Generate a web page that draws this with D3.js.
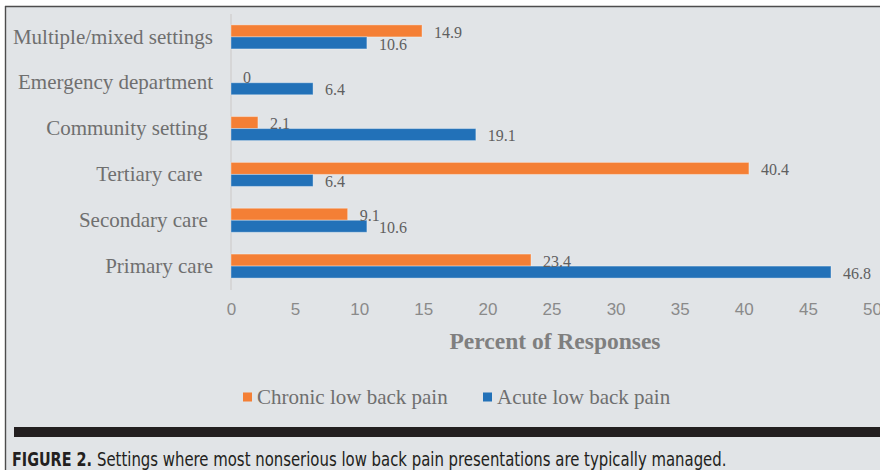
<!DOCTYPE html>
<html>
<head>
<meta charset="utf-8">
<script src="https://cdn.jsdelivr.net/npm/d3@7"></script>
<style>
  html, body { margin: 0; padding: 0; background: #ffffff; }
  svg { display: block; }
  text { white-space: pre; }
</style>
</head>
<body>
<svg id="chart" width="880" height="470"></svg>
<script>
// ---- data ----
const categories = [
  "Multiple/mixed settings",
  "Emergency department",
  "Community setting ",
  "Tertiary care  ",
  "Secondary care ",
  "Primary care"
];
const seriesNames = ["Chronic low back pain", "Acute low back pain"];
const chronicValues = [14.9, 0, 2.1, 40.4, 9.1, 23.4];
const acuteValues   = [10.6, 6.4, 19.1, 6.4, 10.6, 46.8];
const xTicks = [0, 5, 10, 15, 20, 25, 30, 35, 40, 45, 50];
const axisTitle = "Percent of Responses";
const captionBold = "FIGURE 2.";
const captionText = "Settings where most nonserious low back pain presentations are typically managed.";

const colors = { "Chronic low back pain": "#f47f35", "Acute low back pain": "#2271b8" };

const svg = d3.select("#chart");

// frame
svg.append("rect").attr("x", 5).attr("y", 6).attr("width", 875).attr("height", 464).attr("fill", "#e1e4e7");
svg.append("line").attr("x1", 5).attr("x2", 880).attr("y1", 6.5).attr("y2", 6.5).attr("stroke", "#4d4d4d").attr("stroke-width", 1.6);
svg.append("line").attr("x1", 5.5).attr("x2", 5.5).attr("y1", 6).attr("y2", 470).attr("stroke", "#4d4d4d").attr("stroke-width", 1.4);

// scales
const x = d3.scaleLinear().domain([0, 50]).range([231, 872]);
const y = d3.scaleBand().domain(categories).range([14, 289]).paddingInner(0.476).paddingOuter(0.238);
const ySub = d3.scaleBand().domain(seriesNames).range([0, y.bandwidth()]);

const rows = categories.map((c, i) => ({
  cat: c,
  values: [
    { series: seriesNames[0], value: chronicValues[i] },
    { series: seriesNames[1], value: acuteValues[i] }
  ]
}));

// x axis (ticks only, no line)
const xAxis = d3.axisBottom(x).tickValues(xTicks).tickSize(0).tickPadding(0);
const gx = svg.append("g").attr("transform", "translate(0,303)").call(xAxis);
gx.select(".domain").remove();
gx.selectAll("text")
  .attr("dy", "0.71em")
  .attr("font-family", "'Liberation Sans Narrow', 'Liberation Sans', Arial, sans-serif")
  .attr("font-size", 17)
  .attr("fill", "#8a8a8a");

// vertical axis line
svg.append("line")
  .attr("x1", x(0)).attr("x2", x(0))
  .attr("y1", 14).attr("y2", 290)
  .attr("stroke", "#d2d2d2").attr("stroke-width", 1.5);

// y axis labels
const yAxis = d3.axisLeft(y).tickSize(0).tickPadding(18);
const gy = svg.append("g").attr("transform", `translate(${x(0)},0)`).call(yAxis);
gy.select(".domain").remove();
gy.selectAll("text")
  .attr("font-family", "'Liberation Serif', 'Times New Roman', serif")
  .attr("font-size", 21)
  .attr("fill", "#6f6f6f")
  .attr("dy", "0.32em");

// bars
const groups = svg.append("g").selectAll("g").data(rows).join("g")
  .attr("transform", d => `translate(0,${y(d.cat)})`);

groups.selectAll("rect").data(d => d.values).join("rect")
  .attr("x", x(0))
  .attr("y", d => ySub(d.series))
  .attr("width", d => x(d.value) - x(0))
  .attr("height", ySub.bandwidth())
  .attr("fill", d => colors[d.series])
  .attr("stroke", "rgba(255,255,255,0.35)")
  .attr("stroke-width", 1);

groups.selectAll("text").data(d => d.values).join("text")
  .attr("x", d => x(d.value) + 12)
  .attr("y", d => ySub(d.series) + ySub.bandwidth() / 2 + 1)
  .attr("dy", "0.35em")
  .attr("font-family", "'Liberation Serif', 'Times New Roman', serif")
  .attr("font-size", 16)
  .attr("fill", "#5f5f5f")
  .text(d => String(d.value));

// axis title
svg.append("text")
  .attr("x", 555).attr("y", 349)
  .attr("text-anchor", "middle")
  .attr("font-family", "'Liberation Serif', 'Times New Roman', serif")
  .attr("font-weight", "bold")
  .attr("font-size", 23.5)
  .attr("fill", "#7f7f7f")
  .text(axisTitle);

// legend
const legendX = [243, 483];
const legend = svg.append("g").selectAll("g").data(seriesNames).join("g")
  .attr("transform", (d, i) => `translate(${legendX[i]},397)`);
legend.append("rect").attr("x", 0).attr("y", -4.5).attr("width", 9).attr("height", 9)
  .attr("fill", d => colors[d]);
legend.append("text").attr("x", 14).attr("y", 0).attr("dy", "0.35em")
  .attr("font-family", "'Liberation Serif', 'Times New Roman', serif")
  .attr("font-size", 21)
  .attr("fill", "#6f6f6f")
  .text(d => d);

// black band
svg.append("rect").attr("x", 14).attr("y", 427).attr("width", 866).attr("height", 10).attr("fill", "#231f20");

// caption: condensed look = narrower font size stretched vertically to fixed widths
const capFont = "'Liberation Sans Narrow', 'DejaVu Sans Condensed', 'Liberation Sans', sans-serif";
function captionPiece(txt, x0, targetW, bold) {
  const g = svg.append("g");
  const t = g.append("text").attr("x", 0).attr("y", 0)
    .attr("font-family", capFont)
    .attr("font-stretch", "condensed")
    .attr("font-weight", bold ? "bold" : "normal")
    .attr("font-size", 19.5)
    .attr("fill", "#231f20")
    .text(txt);
  const natural = t.node().getComputedTextLength();
  const k = Math.min(1, targetW / natural);
  const fs = 19.5 * k;
  t.attr("font-size", fs);
  g.attr("transform", `translate(${x0},466) scale(1,${1 / k})`);
}
captionPiece(captionBold, 12, 80, true);
captionPiece(captionText, 97, 630, false);
</script>
</body>
</html>
